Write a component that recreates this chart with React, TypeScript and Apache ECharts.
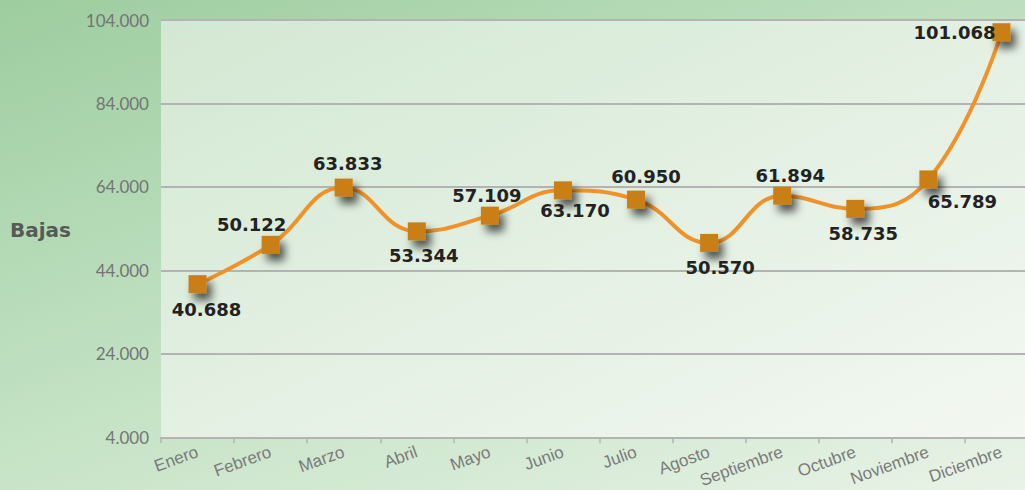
import React, { useEffect, useRef } from "react";
import * as echarts from "echarts";

// Monthly "Bajas" counts
const months = [
  "Enero", "Febrero", "Marzo", "Abril", "Mayo", "Junio",
  "Julio", "Agosto", "Septiembre", "Octubre", "Noviembre", "Diciembre",
];
const bajas = [40688, 50122, 63833, 53344, 57109, 63170, 60950, 50570, 61894, 58735, 65789, 101068];
// Where each value label sits, relative to its marker
const labelOffsets: [number, number][] = [
  [9, 25], [-19, -20], [4, -24], [7, 24], [-3, -20], [12, 20],
  [10, -23], [11, 25], [8, -20], [8, 25], [34, 22], [-47, 0],
];
const yMin = 4000;
const yMax = 104000;
const yStep = 20000;

const fmt = (v: number) =>
  Math.round(v).toString().replace(/\B(?=(\d{3})+(?!\d))/g, ".");

export default function App() {
  const ref = useRef<HTMLDivElement>(null);

  useEffect(() => {
    if (!ref.current) return;
    const chart = echarts.init(ref.current, undefined, { renderer: "svg" });
    chart.setOption({
      animation: false,
      backgroundColor: "transparent",
      grid: {
        left: 161,
        right: 7,
        top: 20,
        bottom: 52,
        show: true,
        borderWidth: 0,
        backgroundColor: new echarts.graphic.LinearGradient(0, 0, 1, 1, [
          { offset: 0, color: "#d3e8d3" },
          { offset: 1, color: "#f3f8f1" },
        ]),
      },
      graphic: [
        {
          type: "text",
          left: 10,
          top: 220,
          style: {
            text: "Bajas",
            font: "bold 20px 'DejaVu Sans'",
            fill: "#555a57",
          },
        },
      ],
      xAxis: {
        type: "category",
        data: months,
        boundaryGap: true,
        axisLine: { lineStyle: { color: "#b3b3b3", width: 2 } },
        axisTick: { show: true, length: 6, lineStyle: { color: "#b3b3b3", width: 1.5 } },
        axisLabel: {
          rotate: 20,
          margin: 14,
          interval: 0,
          color: "#7a7a7a",
          fontFamily: "'Liberation Sans', Arial",
          fontSize: 17,
        },
      },
      yAxis: {
        type: "value",
        min: yMin,
        max: yMax,
        interval: yStep,
        axisLine: { show: false },
        axisTick: { show: false },
        splitLine: { lineStyle: { color: "#b3b3b3", width: 2 } },
        axisLabel: {
          margin: 12,
          color: "#747474",
          fontFamily: "Lato",
          fontSize: 17,
          formatter: (v: number) => fmt(v),
        },
      },
      series: [
        {
          type: "line",
          smooth: 0.45,
          data: bajas.map((v, i) => ({
            value: v,
            label: { offset: labelOffsets[i] },
          })),
          symbol: "rect",
          symbolSize: 18,
          lineStyle: { color: "#f0922a", width: 4 },
          itemStyle: {
            color: "#c97e14",
            shadowColor: "rgba(0,0,0,0.65)",
            shadowBlur: 8,
            shadowOffsetX: 5,
            shadowOffsetY: 7,
          },
          label: {
            show: true,
            position: "inside",
            formatter: (p: any) => fmt(p.value),
            color: "#222222",
            fontFamily: "'DejaVu Sans'",
            fontWeight: "bold",
            fontSize: 18,
            textShadowBlur: 0,
          },
          z: 3,
        },
      ],
    });
    return () => chart.dispose();
  }, []);

  return (
    <div
      style={{
        position: "fixed",
        left: 0,
        top: 0,
        width: 1025,
        height: 490,
        overflow: "hidden",
        background: "linear-gradient(160deg, #9dcd9f 0%, #bfe0c0 45%, #e9f3e7 100%)",
      }}
    >
      {/* the plot runs slightly past the right edge */}
      <div ref={ref} style={{ width: 1045, height: 490 }} />
    </div>
  );
}
